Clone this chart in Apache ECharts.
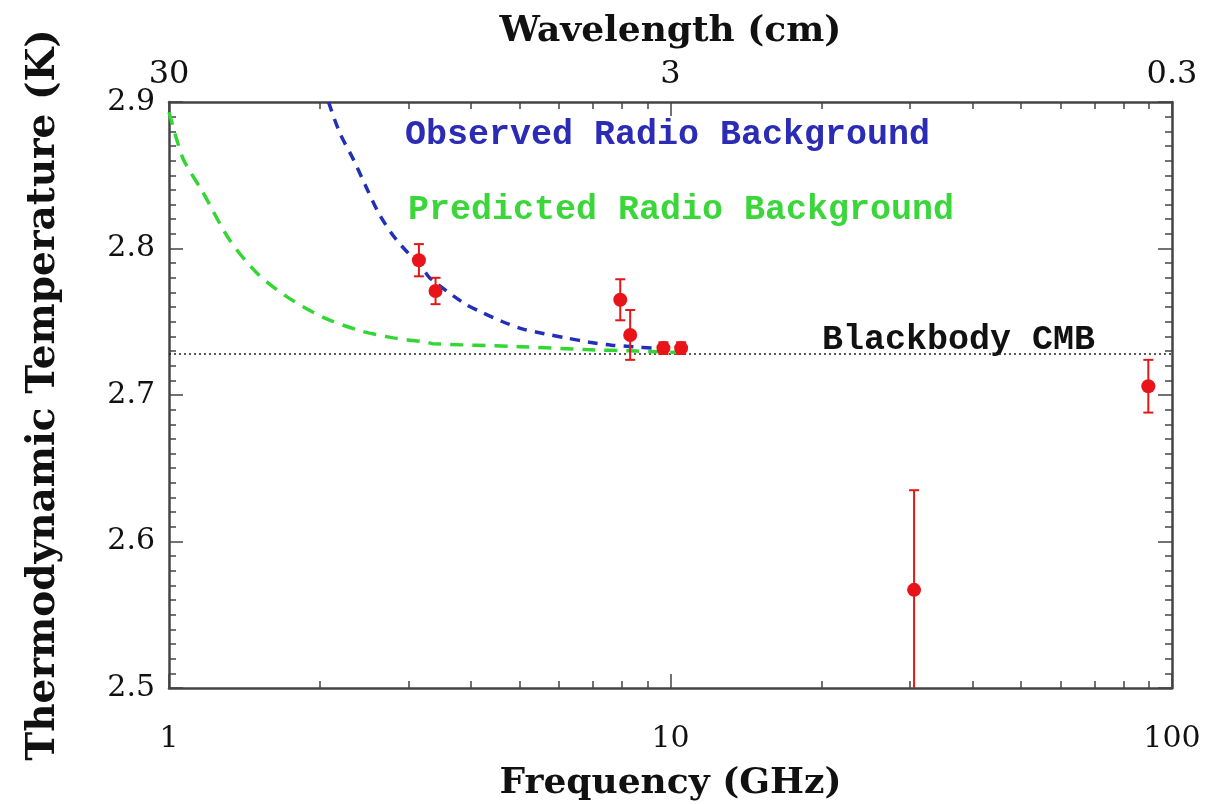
<!DOCTYPE html>
<html>
<head>
<meta charset="utf-8">
<script src="https://cdn.jsdelivr.net/npm/echarts@6/dist/echarts.min.js"></script>
<style>
  html, body { margin: 0; padding: 0; background: #fff; }
  #chartBox { width: 1226px; height: 804px; }
</style>
</head>
<body>
<div id="chartBox"></div>
<script>
// measured points (GHz, K, +/- K)
var freqGHz = [3.15, 3.40, 7.94, 8.31, 9.68, 10.5, 30.6, 89.7];
var tempK = [2.792, 2.771, 2.765, 2.741, 2.732, 2.732, 2.567, 2.706];
var errK = [0.011, 0.009, 0.014, 0.017, 0.004, 0.004, 0.068, 0.018];

// observed radio background (blue dashed)
var obsFreq = [2.08, 2.19, 2.33, 2.48, 2.63, 2.84, 3.21, 3.31, 3.86, 4.23, 4.63, 5.08, 5.57, 6.19, 6.90, 7.62, 8.41, 9.22, 10.58];
var obsTemp = [2.900, 2.879, 2.861, 2.841, 2.823, 2.806, 2.786, 2.780, 2.763, 2.756, 2.750, 2.745, 2.742, 2.739, 2.736, 2.734, 2.733, 2.732, 2.731];

// predicted radio background (green dashed)
var predFreq = [1.0, 1.037, 1.071, 1.17, 1.32, 1.50, 1.72, 2.03, 2.40, 2.80, 3.26, 3.36, 5.0, 6.79, 8.55, 10.5];
var predTemp = [2.893, 2.874, 2.860, 2.838, 2.806, 2.783, 2.767, 2.753, 2.744, 2.739, 2.736, 2.735, 2.733, 2.731, 2.730, 2.729];

var cmbTemp = 2.728;

var freqTicks = [1, 10, 100];
var freqMinor = [2, 3, 4, 5, 6, 7, 8, 9, 20, 30, 40, 50, 60, 70, 80, 90];
var tempTicks = { min: 2.5, max: 2.9, step: 0.1 };

var serif = "DejaVu Serif";
var frameColor = "#444";

function pairs(xs, ys) {
  var out = [];
  for (var i = 0; i < xs.length; i++) out.push([xs[i], ys[i]]);
  return out;
}
var errData = [];
for (var i = 0; i < freqGHz.length; i++) errData.push([freqGHz[i], tempK[i], errK[i]]);

function logAxis(pos, major) {
  return {
    type: "log",
    logBase: 10,
    min: 1,
    max: 100,
    position: pos,
    splitLine: { show: false },
    axisLine: { show: major, onZero: false, lineStyle: { color: frameColor, width: 2.5 } },
    axisTick: {
      show: true,
      inside: true,
      length: major ? 14 : 7,
      customValues: major ? freqTicks : freqMinor,
      lineStyle: { color: frameColor, width: 1.5 }
    },
    axisLabel: { show: false }
  };
}

var nameStyle = { color: "#111", fontFamily: serif, fontWeight: "bold", fontSize: 36 };

var xBottom = logAxis("bottom", true);
xBottom.axisLabel = {
  show: true,
  customValues: freqTicks,
  margin: 36,
  color: "#111",
  fontFamily: serif,
  fontSize: 30,
  formatter: function (v) { return String(Math.round(v)); }
};
xBottom.name = "Frequency (GHz)";
xBottom.nameLocation = "middle";
xBottom.nameGap = 78;
xBottom.nameTextStyle = nameStyle;

var xTop = logAxis("top", true);
xTop.axisLabel = {
  show: true,
  customValues: freqTicks,
  margin: 11,
  color: "#111",
  fontFamily: serif,
  fontSize: 32,
  formatter: function (v) { return String(+(30 / v).toFixed(1)); }
};
xTop.name = "Wavelength (cm)";
xTop.nameLocation = "middle";
xTop.nameGap = 52;
xTop.nameTextStyle = nameStyle;

function tempAxis(pos, withLabel) {
  return {
    type: "value",
    min: tempTicks.min,
    max: tempTicks.max,
    interval: tempTicks.step,
    position: pos,
    splitLine: { show: false },
    axisLine: { show: true, onZero: false, lineStyle: { color: frameColor, width: 2.5 } },
    axisTick: { show: true, inside: true, length: 14, lineStyle: { color: frameColor, width: 1.5 } },
    minorTick: { show: true, splitNumber: 10, length: 7, lineStyle: { color: frameColor, width: 1.5 } },
    axisLabel: {
      show: withLabel,
      margin: 14,
      color: "#111",
      fontFamily: serif,
      fontSize: 30,
      formatter: function (v) { return v.toFixed(1); }
    }
  };
}
var yLeft = tempAxis("left", true);
yLeft.name = "Thermodynamic Temperature (K)";
yLeft.nameLocation = "middle";
yLeft.nameRotate = 90;
yLeft.nameGap = 106;
yLeft.nameTextStyle = { color: "#111", fontFamily: serif, fontWeight: "bold", fontSize: 39 };
var yRight = tempAxis("right", false);

var option = {
  animation: false,
  backgroundColor: "#fff",
  grid: { left: 169, right: 54, top: 102, bottom: 116, containLabel: false, outerBoundsMode: "none" },
  xAxis: [xBottom, logAxis("bottom", false), xTop, logAxis("top", false)],
  yAxis: [yLeft, yRight],
  graphic: [
    {
      type: "text", left: 405, top: 118,
      style: { text: "Observed Radio Background", fill: "#2b2bb5", font: "bold 35px 'Liberation Mono'" }
    },
    {
      type: "text", left: 408, top: 193,
      style: { text: "Predicted Radio Background", fill: "#3ad63a", font: "bold 35px 'Liberation Mono'" }
    },
    {
      type: "text", left: 822, top: 323,
      style: { text: "Blackbody CMB", fill: "#111", font: "bold 35px 'Liberation Mono'" }
    }
  ],
  series: [
    {
      name: "Blackbody CMB",
      type: "line",
      data: [[1, cmbTemp], [100, cmbTemp]],
      showSymbol: false,
      lineStyle: { color: "#222", width: 1.5, type: [2, 3] },
      z: 1
    },
    {
      name: "Predicted Radio Background",
      type: "line",
      data: pairs(predFreq, predTemp),
      smooth: 0.3,
      showSymbol: false,
      clip: true,
      lineStyle: { color: "#33d633", width: 3.5, type: [13, 9] },
      z: 2
    },
    {
      name: "Observed Radio Background",
      type: "line",
      data: pairs(obsFreq, obsTemp),
      smooth: 0.3,
      showSymbol: false,
      clip: true,
      lineStyle: { color: "#2230b8", width: 3.5, type: [10, 8] },
      z: 3
    },
    {
      name: "errors",
      type: "custom",
      data: errData,
      clip: true,
      z: 4,
      renderItem: function (params, api) {
        var x = api.value(0), y = api.value(1), e = api.value(2);
        var hi = api.coord([x, y + e]);
        var lo = api.coord([x, y - e]);
        var st = { stroke: "#e01818", lineWidth: 2 };
        return {
          type: "group",
          children: [
            { type: "line", shape: { x1: hi[0], y1: hi[1], x2: lo[0], y2: lo[1] }, style: st },
            { type: "line", shape: { x1: hi[0] - 5, y1: hi[1], x2: hi[0] + 5, y2: hi[1] }, style: st },
            { type: "line", shape: { x1: lo[0] - 5, y1: lo[1], x2: lo[0] + 5, y2: lo[1] }, style: st }
          ]
        };
      }
    },
    {
      name: "measurements",
      type: "scatter",
      data: pairs(freqGHz, tempK),
      symbolSize: 14,
      itemStyle: { color: "#e8141a", opacity: 1 },
      z: 5
    }
  ]
};

var chart = echarts.init(document.getElementById("chartBox"));
chart.setOption(option);
</script>
</body>
</html>
